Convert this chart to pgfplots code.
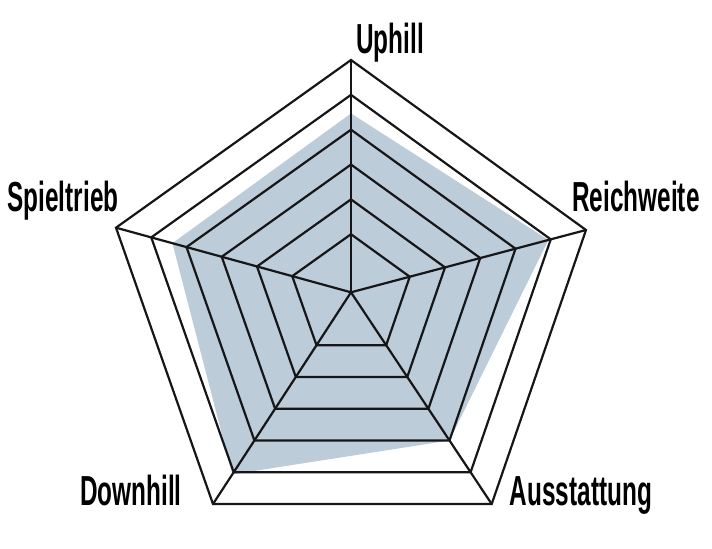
\documentclass[border=0pt]{standalone}
\usepackage{pgfplots}
\usepackage{pgfplotstable}
\pgfplotsset{compat=1.18}
\usepackage{fontspec}
\setmainfont{Liberation Sans}
\newfontfamily\labfont[FakeStretch=0.58]{Liberation Sans}

\definecolor{areafill}{RGB}{188,204,216}
\definecolor{gridline}{RGB}{22,22,24}

% outer vertex of each spoke (px from centre, y up) and the value as a share of it
\pgfplotstableread{
name x y v
Uphill 0 232.3 0.77
Reichweite 235 62.3 0.84
Ausstattung 140.7 -211.7 0.70
Downhill -138 -211.7 0.86
Spieltrieb -235 64.6 0.76
}\spokes

\begin{document}
\begin{tikzpicture}
\begin{axis}[
    x=0.5pt, y=0.5pt,
    xmin=-351, xmax=361,
    ymin=-255.7, ymax=292.3,
    hide axis,
    clip=false,
]
\path (axis cs:-351,-255.7) rectangle (axis cs:361,292.3);

% value area
\addplot[draw=none, fill=areafill]
    table[x expr=\thisrow{x}*\thisrow{v}, y expr=\thisrow{y}*\thisrow{v}] {\spokes} -- cycle;

% rings
\pgfplotsinvokeforeach{1,0.85,0.70,0.55,0.40,0.25}{
  \addplot[gridline, line width=1.1pt, line join=miter]
      table[x expr=\thisrow{x}*#1, y expr=\thisrow{y}*#1] {\spokes} -- cycle;
}

% spokes
\addplot[gridline, line width=1.1pt] coordinates {(0,0) (0,232.3)};
\addplot[gridline, line width=1.1pt] coordinates {(0,0) (235,62.3)};
\addplot[gridline, line width=1.1pt] coordinates {(0,0) (140.7,-211.7)};
\addplot[gridline, line width=1.1pt] coordinates {(0,0) (-138,-211.7)};
\addplot[gridline, line width=1.1pt] coordinates {(0,0) (-235,64.6)};

% labels
\begin{scope}[every node/.style={anchor=base, inner sep=0pt, font=\labfont\bfseries\fontsize{21}{21}\selectfont, text=black}]
\node at (axis cs:39,239.3) {Uphill};
\node at (axis cs:285,81.3) {Reichweite};
\node at (axis cs:230,-212.7) {Ausstattung};
\node at (axis cs:-220,-212.7) {Downhill};
\node at (axis cs:-288,81.3) {Spieltrieb};
\end{scope}
\end{axis}
\end{tikzpicture}
\end{document}
